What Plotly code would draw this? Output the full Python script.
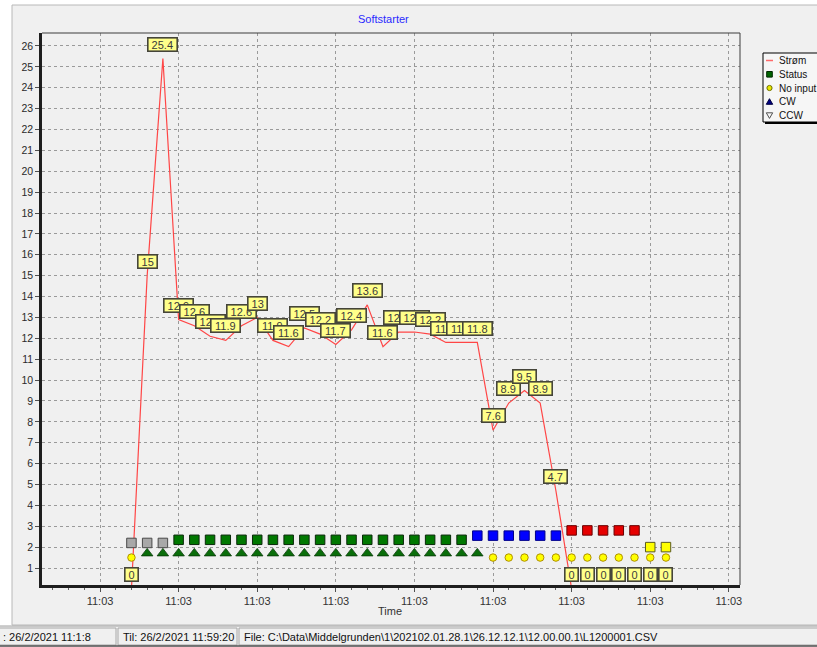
import plotly.graph_objects as go

# ---------------- data ----------------
sample_index = [0, 1, 2, 3, 4, 5, 6, 7, 8, 9, 10, 11, 12, 13, 14, 15, 16, 17, 18, 19, 20,
                21, 22, 23, 24, 25, 26, 27, 28, 29, 30, 31, 32, 33, 34]
strom = [0, 15, 25.4, 12.9, 12.6, 12.1, 11.9, 12.6, 13, 11.9, 11.6, 12.5, 12.2, 11.7, 12.4,
         13.6, 11.6, 12.3, 12.3, 12.2, 11.8, 11.8, 11.8, 7.6, 8.9, 9.5, 8.9, 4.7,
         0, 0, 0, 0, 0, 0, 0]
status_value = [2.2, 2.2, 2.2,
                2.35, 2.35, 2.35, 2.35, 2.35, 2.35, 2.35, 2.35, 2.35, 2.35,
                2.35, 2.35, 2.35, 2.35, 2.35, 2.35, 2.35, 2.35, 2.35,
                2.55, 2.55, 2.55, 2.55, 2.55, 2.55,
                2.8, 2.8, 2.8, 2.8, 2.8,
                2.0, 2.0]
status_state = ["gray", "gray", "gray",
                "green", "green", "green", "green", "green", "green", "green", "green", "green", "green",
                "green", "green", "green", "green", "green", "green", "green", "green", "green",
                "blue", "blue", "blue", "blue", "blue", "blue",
                "red", "red", "red", "red", "red",
                "yellow", "yellow"]
cw_index = [1, 2, 3, 4, 5, 6, 7, 8, 9, 10, 11, 12, 13, 14, 15, 16, 17, 18, 19, 20, 21, 22]
cw_value = [1.7, 1.7, 1.7, 1.7, 1.7, 1.7, 1.7, 1.7, 1.7, 1.7, 1.7, 1.7, 1.7, 1.7, 1.7,
            1.7, 1.7, 1.7, 1.7, 1.7, 1.7, 1.7]
noinput_index = [0, 23, 24, 25, 26, 27, 28, 29, 30, 31, 32, 33, 34]
noinput_value = [1.5, 1.5, 1.5, 1.5, 1.5, 1.5, 1.5, 1.5, 1.5, 1.5, 1.5, 1.5, 1.5]
x_tick_pos = [-2, 3, 8, 13, 18, 23, 28, 33, 38]
x_tick_text = ["11:03", "11:03", "11:03", "11:03", "11:03", "11:03", "11:03", "11:03", "11:03"]
legend_names = ["Strøm", "Status", "No input", "CW", "CCW"]
title_text = "Softstarter"
x_title = "Time"
status_bar_texts = [": 26/2/2021 11:1:8", "Til: 26/2/2021 11:59:20",
                    r"File: C:\Data\Middelgrunden\1\202102.01.28.1\26.12.12.1\12.00.00.1\L1200001.CSV"]

# ---------------- styles ----------------
FONT = "Liberation Sans, Arial, sans-serif"
W, H = 817, 647
L, R, T, B = 42, 740, 33, 585
state_fill = {"gray": "#a8a8a8", "green": "#007800", "blue": "#0000ff", "red": "#e60000", "yellow": "#ffff00"}
state_line = {"gray": "#4a4a4a", "green": "#0a280a", "blue": "#00008a", "red": "#6a0000", "yellow": "#5a5a20"}
label_offset = 0.69  # y-units between a point and its label box centre


def PX(x):
    return (x - L) / (R - L)


def PY(y):
    return (B - y) / (B - T)


def fmt(v):
    return ("%g" % v)


def text_w(s):
    w = 0.0
    for ch in s:
        w += 3.06 if ch == "." else 6.12
    return w + 6


fig = go.Figure()

fig.add_trace(go.Scatter(x=sample_index, y=strom, mode="lines",
                         line=dict(color="#ff4646", width=1.2), showlegend=False, hoverinfo="skip"))
fig.add_trace(go.Scatter(x=sample_index, y=status_value, mode="markers", showlegend=False,
                         marker=dict(symbol="square", size=9.5,
                                     color=[state_fill[s] for s in status_state],
                                     line=dict(color=[state_line[s] for s in status_state], width=1))))
fig.add_trace(go.Scatter(x=cw_index, y=cw_value, mode="markers", showlegend=False,
                         marker=dict(symbol="triangle-up", size=10, color="#0a6e0a",
                                     line=dict(color="#083808", width=0.8))))
fig.add_trace(go.Scatter(x=noinput_index, y=noinput_value, mode="markers", showlegend=False,
                         marker=dict(symbol="circle", size=7.5, color="#ffff00",
                                     line=dict(color="#b09000", width=1))))

annotations = []
# value labels
for xi, v in zip(sample_index, strom):
    t = fmt(v)
    annotations.append(dict(x=xi, y=v, xref="x", yref="y", axref="x", ayref="y",
                            ax=xi, ay=v + label_offset, showarrow=True,
                            arrowcolor="rgba(0,0,0,0)", arrowwidth=0.1, arrowhead=0,
                            text=t, width=text_w(t), height=12, valign="middle",
                            bgcolor="#ffff8a", bordercolor="#45453a", borderwidth=1.6, borderpad=0,
                            font=dict(family=FONT, size=11, color="#3a3a3a")))

# title and axis title
annotations.append(dict(x=PX(383), y=PY(19), xref="paper", yref="paper", showarrow=False,
                        text=title_text, font=dict(family=FONT, size=11, color="#2a2aff"),
                        xanchor="center", yanchor="middle"))
annotations.append(dict(x=PX(390), y=PY(611), xref="paper", yref="paper", showarrow=False,
                        text=x_title, font=dict(family=FONT, size=11, color="#333333"),
                        xanchor="center", yanchor="middle"))

shapes = []
# window panel background
shapes.append(dict(type="rect", xref="paper", yref="paper", layer="below",
                   x0=PX(12), x1=PX(830), y0=PY(5), y1=PY(625),
                   fillcolor="#f0f0f0", line=dict(color="#b8b8b8", width=1)))
# status bar
shapes.append(dict(type="rect", xref="paper", yref="paper", layer="below",
                   x0=PX(-5), x1=PX(830), y0=PY(626), y1=PY(650),
                   fillcolor="#f0f0f0", line=dict(color="#a0a0a0", width=1)))
for a, b in [(-5, 116), (118, 237), (239, 830)]:
    shapes.append(dict(type="rect", xref="paper", yref="paper", layer="below",
                       x0=PX(a), x1=PX(b), y0=PY(628), y1=PY(645),
                       fillcolor="rgba(0,0,0,0)", line=dict(color="#a8a8a8", width=1)))
shapes.append(dict(type="line", xref="paper", yref="paper", layer="above",
                   x0=PX(-5), x1=PX(830), y0=PY(646), y1=PY(646), line=dict(color="#505050", width=1.5)))
for xs, t in zip([1, 121, 242], status_bar_texts):
    annotations.append(dict(x=PX(xs), y=PY(636.5), xref="paper", yref="paper", showarrow=False,
                            text=t, xanchor="left", yanchor="middle",
                            font=dict(family=FONT, size=11, color="#111111")))

# plot frame (top and right)
shapes.append(dict(type="line", xref="paper", yref="paper", x0=0, x1=1, y0=1, y1=1,
                   line=dict(color="#3c3c3c", width=1)))
shapes.append(dict(type="line", xref="paper", yref="paper", x0=1, x1=1, y0=0, y1=1,
                   line=dict(color="#3c3c3c", width=1)))

# legend box
shapes.append(dict(type="rect", xref="paper", yref="paper", x0=PX(765), x1=PX(830), y0=PY(55), y1=PY(124),
                   fillcolor="#000000", line=dict(width=0)))
shapes.append(dict(type="rect", xref="paper", yref="paper", x0=PX(763), x1=PX(830), y0=PY(53), y1=PY(122),
                   fillcolor="#f6f6f6", line=dict(color="#000000", width=1)))
legend_y = [60.5, 74.3, 88, 101.7, 115.4]
cx = 769.5
shapes.append(dict(type="line", xref="paper", yref="paper", x0=PX(766), x1=PX(773),
                   y0=PY(legend_y[0]), y1=PY(legend_y[0]), line=dict(color="#ff6a6a", width=1.5)))
shapes.append(dict(type="rect", xref="paper", yref="paper", x0=PX(cx - 2.8), x1=PX(cx + 2.8),
                   y0=PY(legend_y[1] - 2.8), y1=PY(legend_y[1] + 2.8),
                   fillcolor="#006400", line=dict(color="#002800", width=1)))
shapes.append(dict(type="circle", xref="paper", yref="paper", x0=PX(cx - 2.6), x1=PX(cx + 2.6),
                   y0=PY(legend_y[2] - 2.6), y1=PY(legend_y[2] + 2.6),
                   fillcolor="#e8e800", line=dict(color="#707000", width=1)))


def tri(yc, up):
    if up:
        pts = [(cx - 3.2, yc + 2.6), (cx + 3.2, yc + 2.6), (cx, yc - 3.0)]
    else:
        pts = [(cx - 3.2, yc - 2.6), (cx + 3.2, yc - 2.6), (cx, yc + 3.0)]
    return "M " + " L ".join("%.5f %.5f" % (PX(a), PY(b)) for a, b in pts) + " Z"


shapes.append(dict(type="path", xref="paper", yref="paper", path=tri(legend_y[3], True),
                   fillcolor="#000080", line=dict(color="#000040", width=1)))
shapes.append(dict(type="path", xref="paper", yref="paper", path=tri(legend_y[4], False),
                   fillcolor="rgba(0,0,0,0)", line=dict(color="#505050", width=1)))
for name, yy in zip(legend_names, legend_y):
    annotations.append(dict(x=PX(777), y=PY(yy), xref="paper", yref="paper", showarrow=False,
                            text=name, xanchor="left", yanchor="middle",
                            font=dict(family=FONT, size=10, color="#111111")))

fig.update_layout(
    width=W, height=H, autosize=False,
    margin=dict(l=L, r=W - R, t=T, b=H - B, pad=0),
    paper_bgcolor="#ffffff", plot_bgcolor="rgba(0,0,0,0)",
    showlegend=False,
    font=dict(family=FONT, size=10, color="#333333"),
    annotations=annotations, shapes=shapes,
    xaxis=dict(range=[-5.69, 38.71], tickmode="array", tickvals=x_tick_pos, ticktext=x_tick_text,
               showgrid=True, gridcolor="#9a9a9a", gridwidth=1, griddash="3px,3px",
               zeroline=False, showline=True, linecolor="#1e1e1e", linewidth=2.5,
               ticks="outside", ticklen=4, tickcolor="#505050",
               tickfont=dict(family=FONT, size=11, color="#333333"),
               minor=dict(tickmode="linear", tick0=0, dtick=1, ticks="outside", ticklen=2.5,
                          tickcolor="#606060", showgrid=False)),
    yaxis=dict(range=[0.186, 26.62], tickmode="linear", tick0=0, dtick=1,
               showgrid=True, gridcolor="#9a9a9a", gridwidth=1, griddash="3px,3px",
               zeroline=False, showline=True, linecolor="#1e1e1e", linewidth=2.5,
               ticks="outside", ticklen=4, tickcolor="#505050",
               tickfont=dict(family=FONT, size=10.5, color="#2a2a2a")),
)

fig.write_html("out.html", config={"displayModeBar": False},
               post_script="document.body.style.margin='0px';document.body.style.overflow='hidden';")
